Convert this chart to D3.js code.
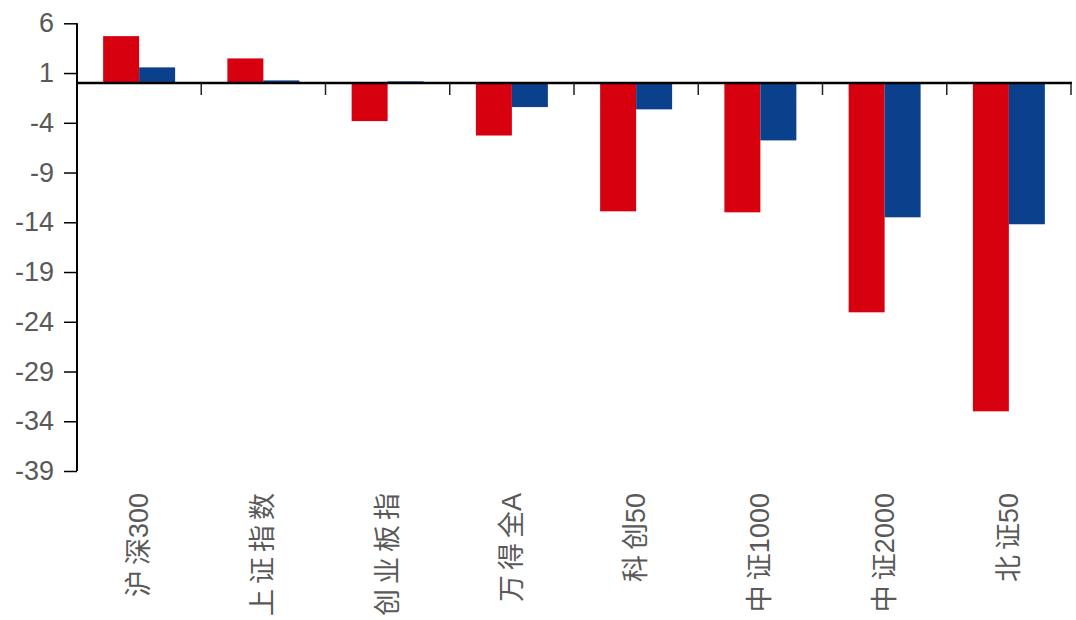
<!DOCTYPE html>
<html>
<head>
<meta charset="utf-8">
<script src="https://cdn.jsdelivr.net/npm/d3@7"></script>
<style>
  html, body { margin: 0; padding: 0; background: #fff; }
  svg { display: block; }
  text { font-family: "Liberation Sans", Arial, "Noto Sans CJK SC", sans-serif; }
</style>
</head>
<body>
<svg id="chart" width="1076" height="620"></svg>
<script>
// Index names along the x axis
const categories = ["沪深300", "上证指数", "创业板指", "万得全A", "科创50", "中证1000", "中证2000", "北证50"];
// Two return series per index (%)
const seriesRed  = [4.71, 2.47, -3.83, -5.28, -12.9, -13.0, -23.05, -33.0];
const seriesBlue = [1.57, 0.26, 0.16, -2.42, -2.65, -5.77, -13.5, -14.2];
// Y axis tick values
const yTicks = [6, 1, -4, -9, -14, -19, -24, -29, -34, -39];

const seriesKeys = ["red", "blue"];
const colors = { red: "#D7000F", blue: "#0B418C" };

const svg = d3.select("#chart");
const plotLeft = 77, plotRight = 1071, plotTop = 23.3, plotBottom = 471;

const x = d3.scaleBand().domain(categories).range([plotLeft, plotRight]).padding(0);
const xs = d3.scaleBand().domain(seriesKeys).range([0, x.bandwidth()])
  .paddingInner(0).paddingOuter(0.726);
const y = d3.scaleLinear().domain([-39, 6]).range([plotBottom, plotTop]);

const rows = categories.map((c, i) => ({ cat: c, red: seriesRed[i], blue: seriesBlue[i] }));

// Bars
const g = svg.append("g");
rows.forEach(r => {
  seriesKeys.forEach(k => {
    const v = r[k];
    g.append("rect")
      .attr("x", x(r.cat) + xs(k))
      .attr("width", xs.bandwidth())
      .attr("y", y(Math.max(0, v)))
      .attr("height", Math.abs(y(v) - y(0)))
      .attr("fill", colors[k]);
  });
});

// Y axis (plain hyphen for negatives)
const yAxis = svg.append("g")
  .attr("transform", `translate(${plotLeft},0)`)
  .call(d3.axisLeft(y).tickValues(yTicks).tickSize(13).tickPadding(10).tickFormat(d => String(d)));
yAxis.select(".domain").attr("stroke", "#000").attr("stroke-width", 2).attr("d", `M0,${plotTop}V${plotBottom}`);
yAxis.selectAll(".tick line").attr("stroke", "#000").attr("stroke-width", 1.5);
yAxis.selectAll(".tick text").attr("fill", "#595959").style("font-size", "27px");

// X axis at zero with boundary ticks
const xAxisG = svg.append("g").attr("transform", `translate(0,${y(0)})`);
xAxisG.append("line")
  .attr("x1", plotLeft).attr("x2", plotRight + 1)
  .attr("stroke", "#000").attr("stroke-width", 2.5);
const bounds = categories.slice(1).map(c => x(c)).concat([plotRight]);
xAxisG.selectAll("line.tk").data(bounds).enter().append("line")
  .attr("class", "tk")
  .attr("x1", d => d).attr("x2", d => d)
  .attr("y1", 0).attr("y2", 12)
  .attr("stroke", "#222").attr("stroke-width", 1.5);

// Category labels, rotated; CJK glyphs are tracked apart, Latin runs are not
const isCJK = ch => /[\u4e00-\u9fff]/.test(ch);
const labels = svg.append("g").selectAll("text").data(categories).enter().append("text")
  .attr("transform", d => `translate(${x(d) + x.bandwidth() / 2 + 9},493) rotate(-90)`)
  .attr("text-anchor", "end")
  .attr("fill", "#595959")
  .style("font-size", "27px");
labels.each(function (d) {
  const t = d3.select(this);
  const chars = Array.from(d);
  chars.forEach((ch, i) => {
    const gap = isCJK(ch) && i < chars.length - 1 && isCJK(chars[i + 1]) ? "5px" : "0px";
    t.append("tspan").style("letter-spacing", gap).text(ch);
  });
});
</script>
</body>
</html>
